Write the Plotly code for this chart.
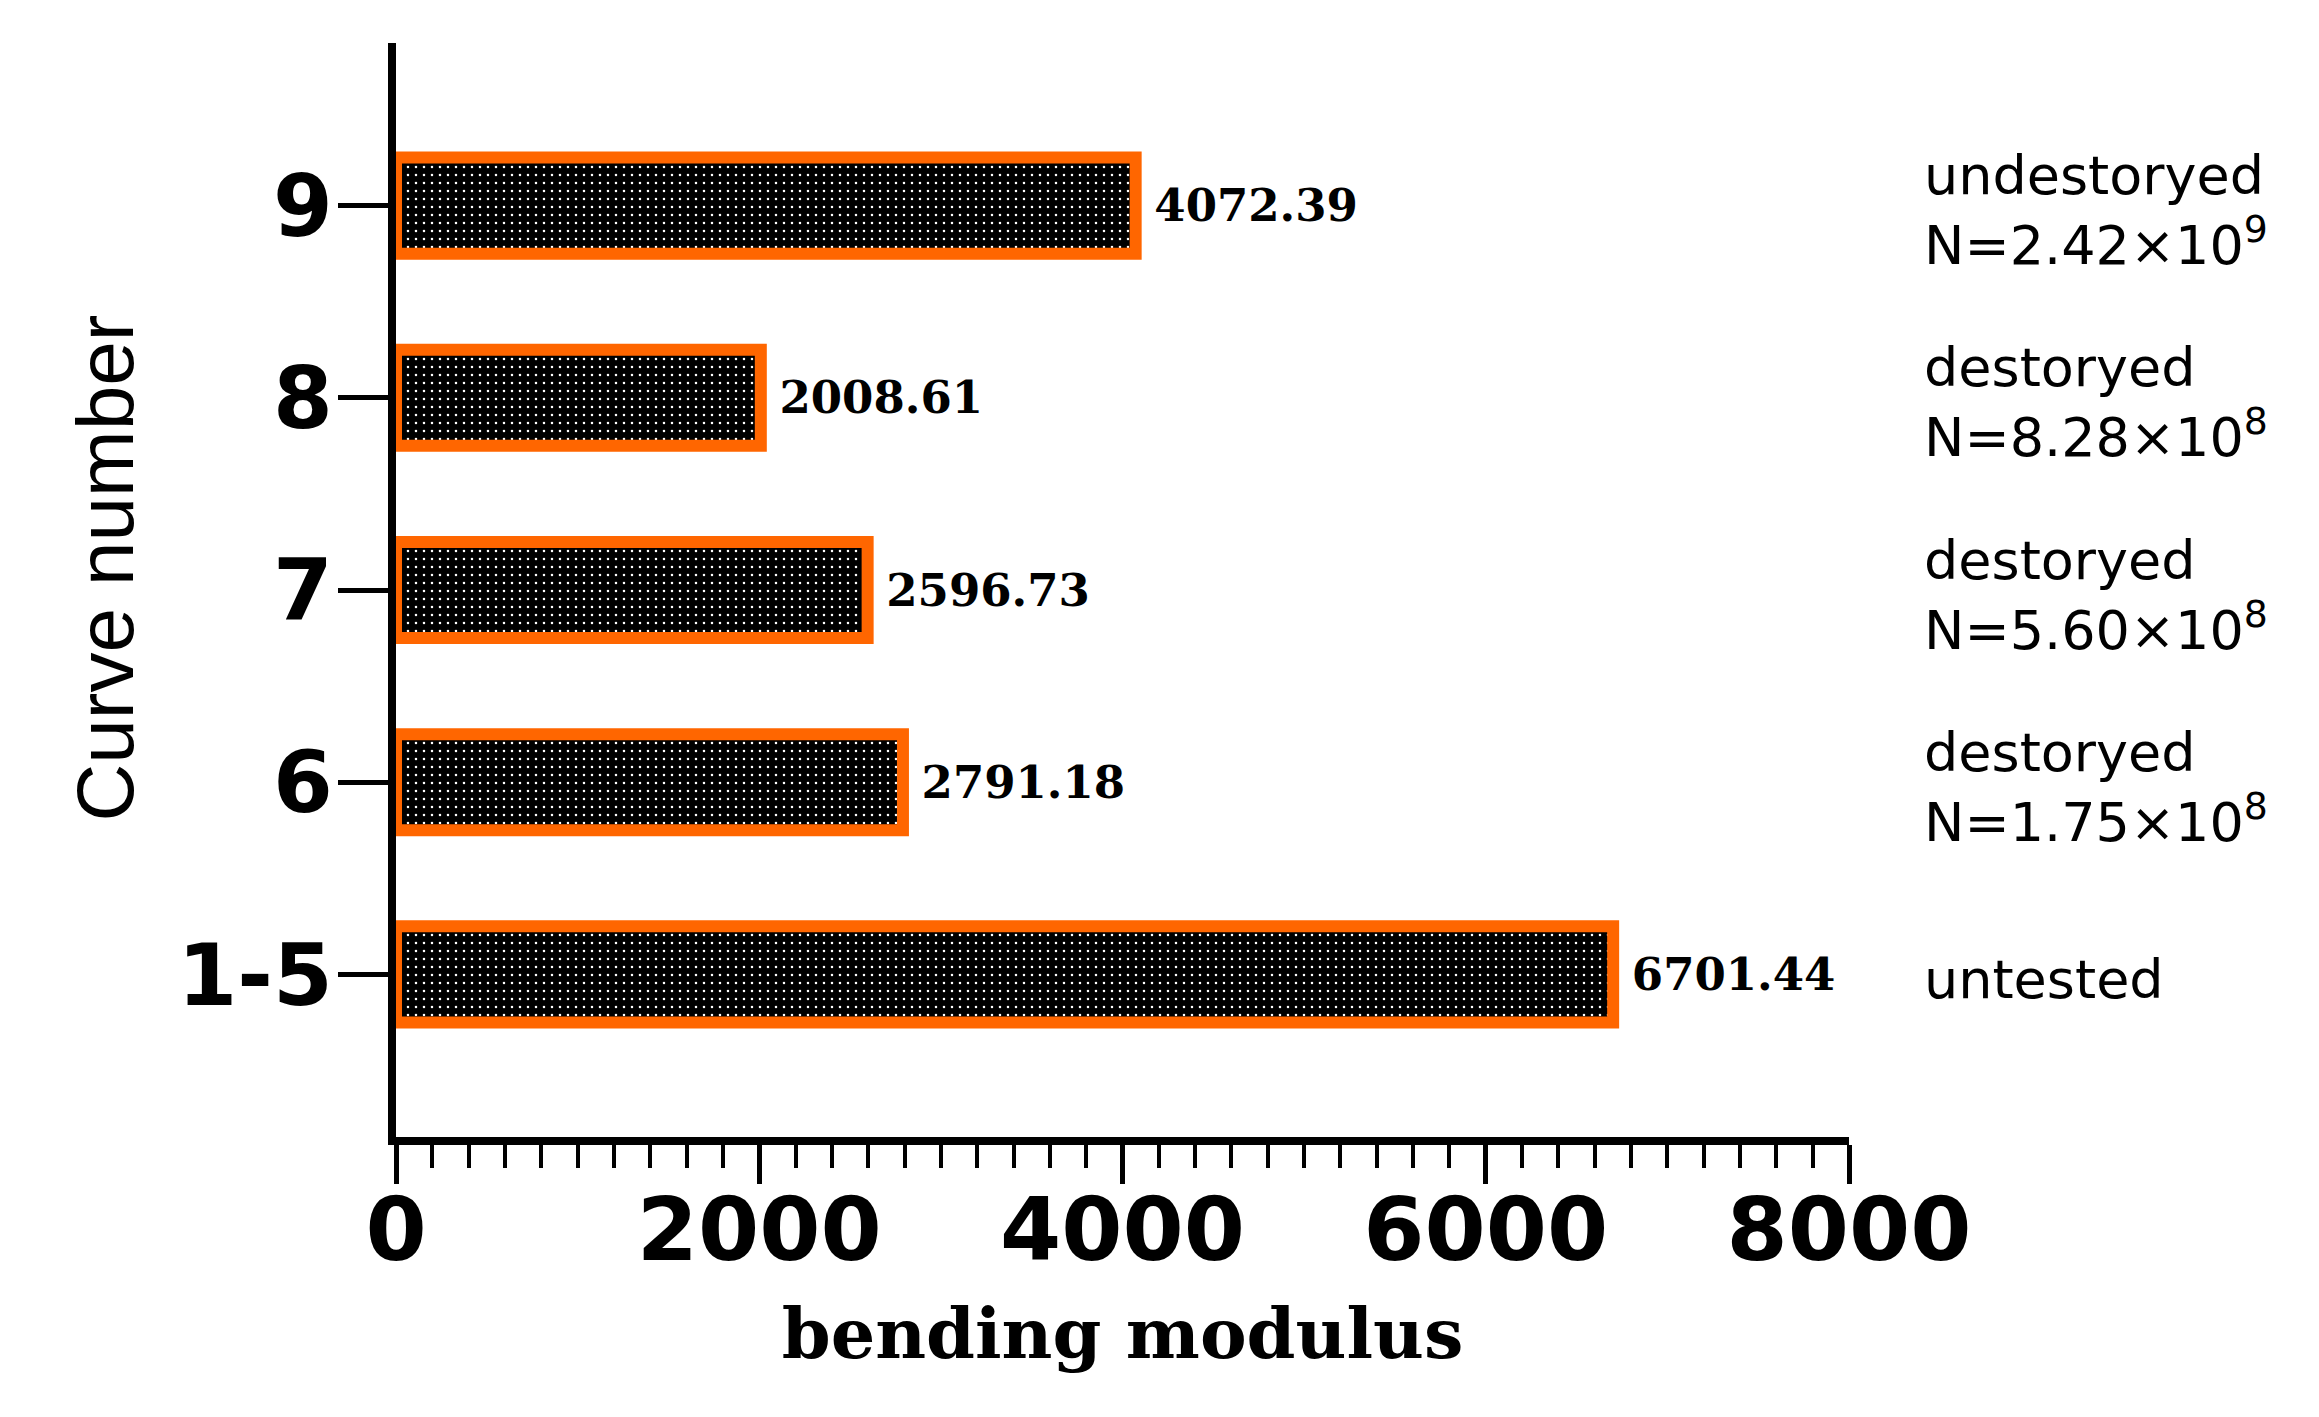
import plotly.graph_objects as go

# bending modulus per curve group
curves = ["1-5", "6", "7", "8", "9"]
modulus = [6701.44, 2791.18, 2596.73, 2008.61, 4072.39]
status = ["untested", "destoryed", "destoryed", "destoryed", "undestoryed"]
n_mant = [None, "1.75", "5.60", "8.28", "2.42"]
n_exp = [None, 8, 8, 8, 9]

x_ticks = [0, 2000, 4000, 6000, 8000]

ORANGE = "#ff6600"

fig = go.Figure()
fig.add_trace(go.Bar(
    y=curves,
    x=modulus,
    orientation="h",
    width=0.5,
    marker=dict(
        color="black",
        line=dict(color=ORANGE, width=12),
        pattern=dict(shape=".", fgcolor="white", bgcolor="black",
                     size=8, solidity=0.08, fillmode="replace"),
    ),
    texttemplate=" %{x:.2f}",
    textposition="outside",
    constraintext="none",
    cliponaxis=False,
    textfont=dict(family="DejaVu Serif", size=45, color="black", weight="bold"),
    showlegend=False,
))

# status notes on the right (numeric category index so "6" etc. is not read as a value)
for i, (s, m, e) in enumerate(zip(status, n_mant, n_exp)):
    txt = s if m is None else f"{s}<br>N={m}×10<sup>{e}</sup>"
    fig.add_annotation(
        x=1.05, xref="paper", y=i, yref="y", yshift=-5,
        text=txt, showarrow=False, xanchor="left", align="left",
        font=dict(family="DejaVu Sans", size=54, color="black"),
    )

# y title as annotation so it can sit a little above centre
fig.add_annotation(
    x=-0.2, xref="paper", y=0.52, yref="paper",
    text="Curve number", textangle=-90, showarrow=False,
    xanchor="center", yanchor="middle",
    font=dict(family="Liberation Sans", size=80, color="black"),
)

fig.update_xaxes(
    range=[0, 8000],
    tickvals=x_ticks,
    ticks="outside", ticklen=39, tickwidth=5, tickcolor="black",
    minor=dict(dtick=200, ticks="outside", ticklen=23, tickwidth=4, tickcolor="black"),
    showline=True, linewidth=8, linecolor="black",
    showgrid=False, zeroline=False,
    ticklabelstandoff=-30,
    tickfont=dict(family="DejaVu Sans", size=88, color="black", weight="bold"),
    title=dict(text="bending modulus", standoff=32,
               font=dict(family="DejaVu Serif", size=70, color="black", weight="bold")),
)
fig.update_yaxes(
    type="category",
    range=[-0.846, 4.846],
    ticks="outside", ticklen=50, tickwidth=5, tickcolor="black",
    showline=True, linewidth=8, linecolor="black",
    showgrid=False, zeroline=False,
    ticklabelstandoff=-12,
    tickfont=dict(family="DejaVu Sans", size=86, color="black", weight="bold"),
)

fig.update_layout(
    width=2319, height=1417,
    margin=dict(l=388, r=478, t=35, b=288, autoexpand=False),
    plot_bgcolor="white", paper_bgcolor="white",
    bargap=0.5,
)

fig.write_html("out.html")
